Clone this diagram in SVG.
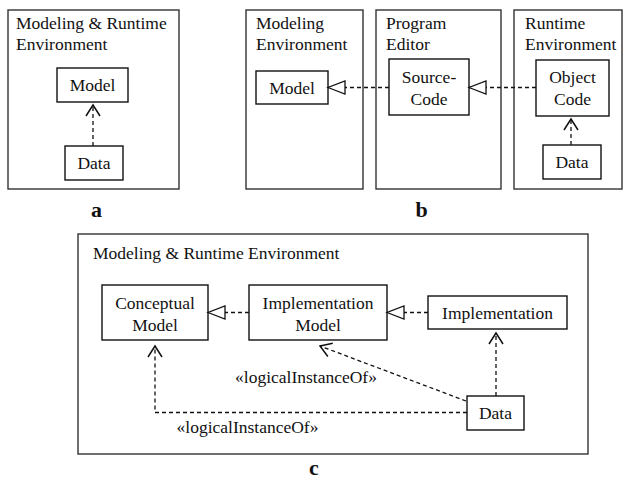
<svg xmlns="http://www.w3.org/2000/svg" width="624" height="480" viewBox="0 0 624 480">
<style>
text{font-family:"Liberation Serif","Times New Roman",serif;font-size:17.5px;fill:#111}
.c{text-anchor:middle}
.lbl{font-weight:bold;font-size:22px;text-anchor:middle}
.panel{fill:none;stroke:#333;stroke-width:1.4}
.box{fill:#fff;stroke:#111;stroke-width:1.4}
.dash{fill:none;stroke:#111;stroke-width:1.3;stroke-dasharray:4,3}
</style>
<defs>
<marker id="open" markerUnits="userSpaceOnUse" markerWidth="30" markerHeight="30" viewBox="-15 -15 30 30" refX="0" refY="0" orient="auto" overflow="visible">
<path d="M-11,-7 L0,0 L-11,7" fill="none" stroke="#111" stroke-width="1.5"/>
</marker>
<marker id="tri" markerUnits="userSpaceOnUse" markerWidth="30" markerHeight="30" viewBox="-20 -15 30 30" refX="0" refY="0" orient="auto" overflow="visible">
<path d="M0,0 L-17,-6.5 L-17,6.5 Z" fill="#fff" stroke="#111" stroke-width="1.3"/>
</marker>
</defs>

<g id="panel-a">
<rect class="panel" x="8" y="10" width="171" height="179"/>
<text x="16" y="29">Modeling &amp; Runtime</text>
<text x="16" y="50">Environment</text>
</g>
<g id="a-model">
<rect class="box" x="57" y="68" width="71" height="34"/>
<text class="c" x="92.5" y="91">Model</text>
</g>
<g id="a-data">
<rect class="box" x="65" y="146" width="58" height="34"/>
<text class="c" x="94" y="169">Data</text>
</g>
<text class="lbl" x="96.5" y="217">a</text>

<g id="b-modeling-env">
<rect class="panel" x="246" y="10" width="117" height="179"/>
<text x="256" y="29">Modeling</text>
<text x="256" y="50">Environment</text>
</g>
<g id="b-program-editor">
<rect class="panel" x="376" y="10" width="125" height="179"/>
<text x="386" y="29">Program</text>
<text x="386" y="50">Editor</text>
</g>
<g id="b-runtime-env">
<rect class="panel" x="514" y="10" width="108" height="179"/>
<text x="525" y="29">Runtime</text>
<text x="525" y="50">Environment</text>
</g>
<g id="b-model">
<rect class="box" x="256" y="71" width="72" height="33"/>
<text class="c" x="292" y="93.5">Model</text>
</g>
<g id="b-source-code">
<rect class="box" x="389" y="59" width="80" height="56"/>
<text class="c" x="429" y="83">Source-</text>
<text class="c" x="429" y="105">Code</text>
</g>
<g id="b-object-code">
<rect class="box" x="536" y="60" width="73" height="56"/>
<text class="c" x="572.5" y="83">Object</text>
<text class="c" x="572.5" y="105">Code</text>
</g>
<g id="b-data">
<rect class="box" x="543" y="145" width="58" height="34"/>
<text class="c" x="572" y="168">Data</text>
</g>
<text class="lbl" x="421.5" y="217">b</text>

<g id="panel-c">
<rect class="panel" x="78" y="234" width="510" height="220"/>
<text x="93" y="259">Modeling &amp; Runtime Environment</text>
</g>
<g id="c-conceptual-model">
<rect class="box" x="102" y="285" width="106" height="55"/>
<text class="c" x="155" y="309">Conceptual</text>
<text class="c" x="155" y="331">Model</text>
</g>
<g id="c-implementation-model">
<rect class="box" x="249" y="285" width="138" height="55"/>
<text class="c" x="318" y="309">Implementation</text>
<text class="c" x="318" y="331">Model</text>
</g>
<g id="c-implementation">
<rect class="box" x="428" y="296" width="139" height="33"/>
<text class="c" x="497.5" y="319">Implementation</text>
</g>
<g id="c-data">
<rect class="box" x="467" y="396" width="57" height="34"/>
<text class="c" x="495.5" y="419">Data</text>
</g>
<text class="c" x="306" y="383">«logicalInstanceOf»</text>
<text class="c" x="247.5" y="433">«logicalInstanceOf»</text>
<text class="lbl" x="314" y="475">c</text>

<g id="connectors">
<path class="dash" d="M93,146 L93,105" marker-end="url(#open)"/>
<path class="dash" d="M389,87.5 L328,87.5" marker-end="url(#tri)"/>
<path class="dash" d="M536,87.5 L469,87.5" marker-end="url(#tri)"/>
<path class="dash" d="M571,145 L571,119" marker-end="url(#open)"/>
<path class="dash" d="M249,312.5 L208,312.5" marker-end="url(#tri)"/>
<path class="dash" d="M428,312.5 L387,312.5" marker-end="url(#tri)"/>
<path class="dash" d="M496,396 L496,333" marker-end="url(#open)"/>
<path class="dash" d="M466,401 L320,346" marker-end="url(#open)"/>
<path class="dash" d="M467,412.5 L155,412.5 L155,346" marker-end="url(#open)"/>
</g>
</svg>
